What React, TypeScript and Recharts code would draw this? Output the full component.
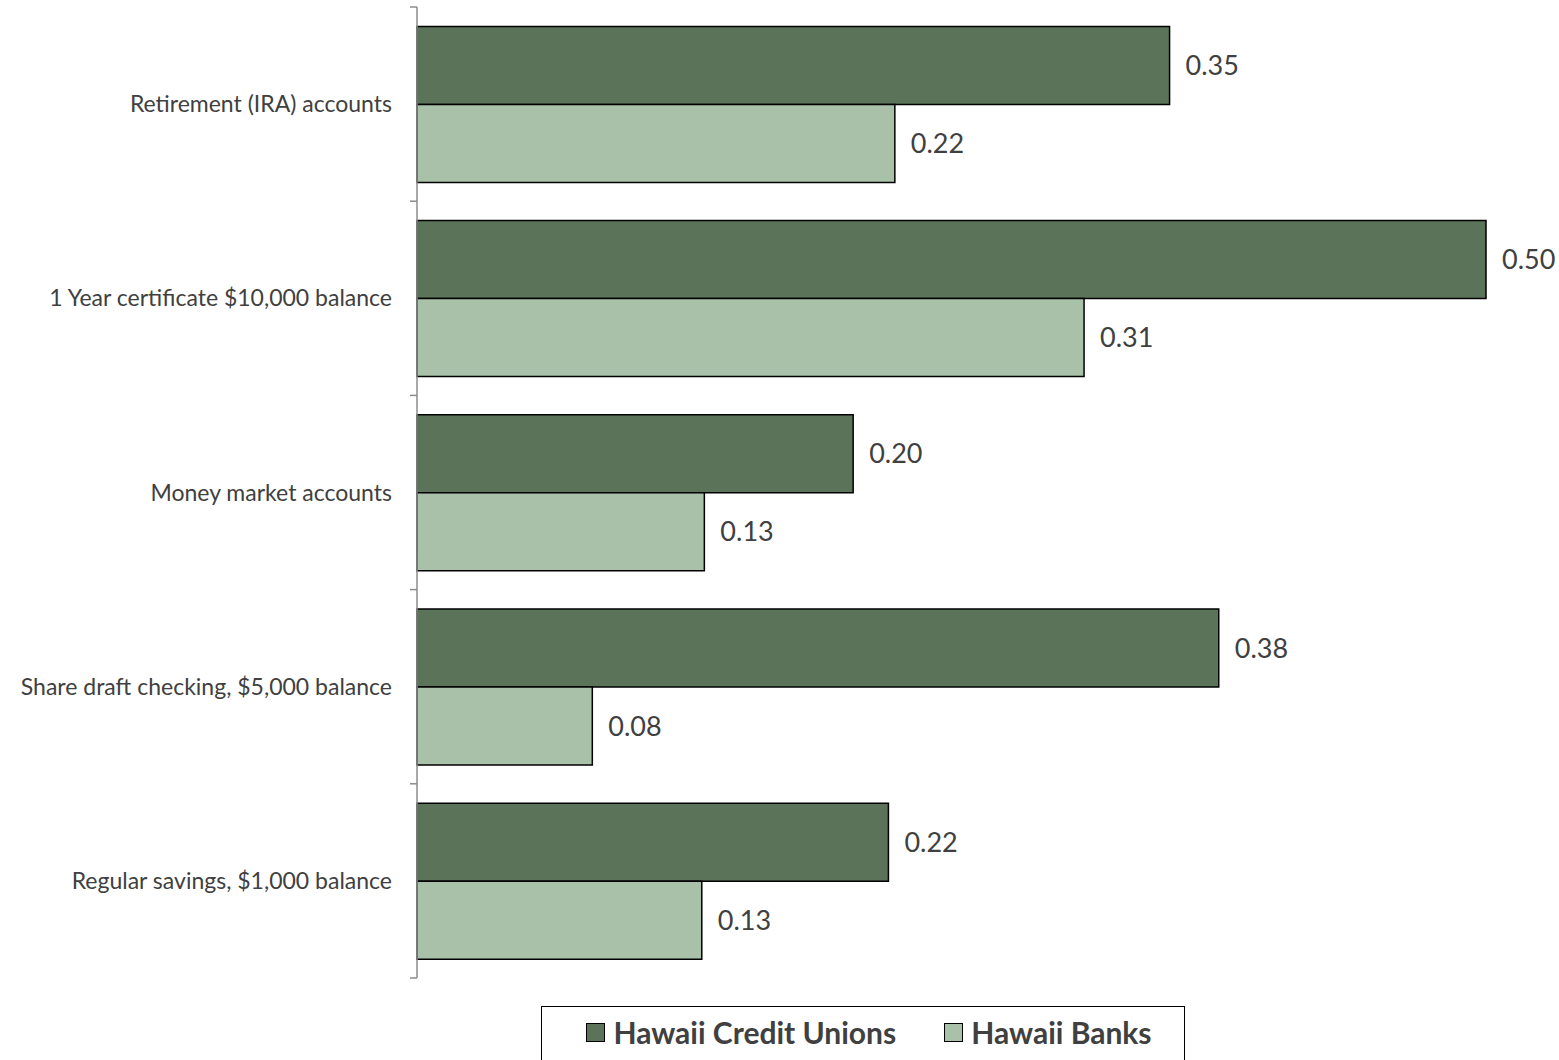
import React from 'react';
import { BarChart, Bar, XAxis, YAxis, LabelList } from 'recharts';

const categories = [
  'Retirement (IRA) accounts',
  '1 Year certificate $10,000 balance',
  'Money market accounts',
  'Share draft checking, $5,000 balance',
  'Regular savings, $1,000 balance',
];
const creditUnions = [0.352, 0.5, 0.204, 0.375, 0.2205];
const banks = [0.2235, 0.312, 0.1344, 0.082, 0.1332];
const seriesNames = ['Hawaii Credit Unions', 'Hawaii Banks'];

const data = categories.map((name, i) => ({
  name,
  cu: creditUnions[i],
  bank: banks[i],
}));

const W = 1559;
const H = 1060;
const MARGIN = { top: 7, right: 73, bottom: 82, left: 0 };
const AXIS_W = 417;
const FONT = 'Lato, Carlito, Calibri, sans-serif';
const DARK = '#5a7359';
const LIGHT = '#a9c1a8';
const AXIS = '#8c8c8c';
const TEXT = '#404040';

const bandH = (H - MARGIN.top - MARGIN.bottom) / categories.length;

function CategoryTick(props: any) {
  const { x, y, payload, index } = props;
  const top = y - bandH / 2;
  return (
    <g>
      <line x1={x - 7} x2={x} y1={top} y2={top} stroke={AXIS} strokeWidth={1.5} />
      {index === categories.length - 1 && (
        <line x1={x - 7} x2={x} y1={top + bandH} y2={top + bandH} stroke={AXIS} strokeWidth={1.5} />
      )}
      <text x={x - 25} y={y} dy={8} textAnchor="end" fontSize={23} fill={TEXT} fontFamily={FONT}>
        {payload.value}
      </text>
    </g>
  );
}

const fmt = (v: any) => Number(v).toFixed(2);

export default function App() {
  return (
    <div style={{ position: 'absolute', left: 0, top: 0, width: W, height: H, background: '#fff', fontFamily: FONT }}>
      <BarChart
        width={W}
        height={H}
        data={data}
        layout="vertical"
        margin={MARGIN}
        barCategoryGap="10%"
        barGap={0}
      >
        <XAxis type="number" domain={[0, 0.5]} hide />
        <YAxis
          type="category"
          dataKey="name"
          width={AXIS_W}
          axisLine={{ stroke: AXIS, strokeWidth: 1.5 }}
          tickLine={false}
          tickSize={0}
          tickMargin={0}
          tick={<CategoryTick />}
          interval={0}
        />
        <Bar dataKey="cu" name={seriesNames[0]} fill={DARK} stroke="#000" strokeWidth={1.5} isAnimationActive={false}>
          <LabelList
            dataKey="cu"
            position="right"
            offset={16}
            formatter={fmt}
            style={{ fontSize: 27, fill: TEXT, fontFamily: FONT }}
          />
        </Bar>
        <Bar dataKey="bank" name={seriesNames[1]} fill={LIGHT} stroke="#000" strokeWidth={1.5} isAnimationActive={false}>
          <LabelList
            dataKey="bank"
            position="right"
            offset={16}
            formatter={fmt}
            style={{ fontSize: 27, fill: TEXT, fontFamily: FONT }}
          />
        </Bar>
      </BarChart>
      <div
        style={{
          position: 'absolute',
          left: 541,
          top: 1006,
          width: 644,
          height: 70,
          boxSizing: 'border-box',
          border: '1.5px solid #000',
          display: 'flex',
          justifyContent: 'center',
          alignItems: 'flex-start',
          paddingTop: 7,
          paddingLeft: 12,
          gap: 48,
          fontWeight: 700,
          fontSize: 30,
          color: TEXT,
        }}
      >
        {[DARK, LIGHT].map((c, i) => (
          <div key={i} style={{ display: 'flex', alignItems: 'center', gap: 8 }}>
            <span style={{ display: 'inline-block', width: 17, height: 17, background: c, border: '1.5px solid #000' }} />
            <span>{seriesNames[i]}</span>
          </div>
        ))}
      </div>
    </div>
  );
}
